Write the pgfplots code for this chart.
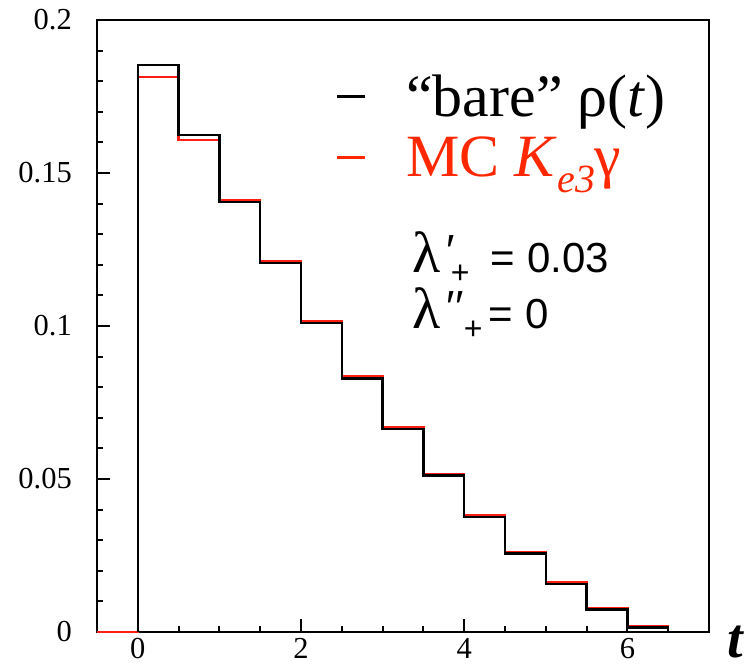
\documentclass[border=0pt]{standalone}
\usepackage{pgfplots}
\pgfplotsset{compat=1.18}
\usepackage{fontspec}
\setmainfont{Liberation Serif}
\newfontfamily\lsans{Liberation Sans}
\newfontfamily\lserif{Liberation Serif}
\definecolor{hred}{RGB}{255,30,20}
\definecolor{tred}{RGB}{255,40,0}
\begin{document}
\begin{tikzpicture}
\begin{axis}[
  scale only axis, width=612pt, height=612pt,
  xmin=-0.5, xmax=7, ymin=0, ymax=0.2,
  axis line style={line width=2.2pt},
  every tick/.style={black, line width=2pt},
  tick align=inside,
  xtick={0,2,4,6}, minor x tick num=3,
  ytick={0,0.05,0.1,0.15,0.2}, yticklabels={0,0.05,0.1,0.15,0.2}, minor y tick num=4,
  xtick pos=bottom, ytick pos=left,
  major tick length=13pt, minor tick length=6pt,
  /pgf/number format/assume math mode=true,
  tick label style={font=\fontsize{30.5}{32}\selectfont, inner sep=0pt},
  yticklabel style={xshift=-25pt},
  xticklabel style={yshift=-6pt},
  xlabel={\fontsize{56}{56}\selectfont\bfseries\itshape t},
  xlabel style={at={(axis description cs:1,0)}, anchor=base west, inner sep=0pt, xshift=18pt, yshift=-25pt},
  legend cell align=left,
  legend style={draw=none, fill=none, at={(axis description cs:0.389,0.910)}, anchor=north west,
    font=\fontsize{60}{62}\selectfont, inner sep=0pt, row sep=18pt, nodes={inner sep=0pt},
    /tikz/every odd column/.append style={column sep=40pt}},
  legend image code/.code={\draw[#1] (0pt,0pt) -- (28pt,0pt);},
]
\addplot[hred, line width=2.5pt, const plot, forget plot] coordinates {
 (-0.5,0) (0,0.1813) (0.5,0.1608) (1.0,0.1410) (1.5,0.1211) (2.0,0.1014) (2.5,0.0837)
 (3.0,0.0670) (3.5,0.0516) (4.0,0.0381) (4.5,0.0261) (5.0,0.0161) (5.5,0.0077)
 (6.0,0.0020) (6.5,0)};
\addplot[black, line width=2.4pt, const plot, forget plot] coordinates {
 (0,0) (0,0.1852) (0.5,0.1624) (1.0,0.1406) (1.5,0.1205) (2.0,0.1010) (2.5,0.0829)
 (3.0,0.0664) (3.5,0.0511) (4.0,0.0375) (4.5,0.0256) (5.0,0.0157) (5.5,0.0074)
 (6.0,0.0015) (6.5,0)};
\addlegendimage{black, line width=3pt}
\addlegendentry{“bare” ρ(\textit{t})}
\addlegendimage{tred, line width=3pt}
\addlegendentry{\textcolor{tred}{MC \textit{K}\raisebox{-16pt}{\fontsize{40}{40}\selectfont\itshape e3}γ}}
\node[anchor=base west, inner sep=0pt, font=\lsans\fontsize{45}{45}\selectfont] at (axis cs:3.37,0.1176)
 {\rlap{\lserif\fontsize{58}{58}\selectfont λ}\rlap{\hspace{34pt}\raisebox{6pt}{′}}\rlap{\hspace{38pt}\raisebox{-11pt}{\fontsize{32}{32}\selectfont +}}\hspace{78pt}\fontsize{42}{42}\selectfont = 0.03};
\node[anchor=base west, inner sep=0pt, font=\lsans\fontsize{45}{45}\selectfont] at (axis cs:3.37,0.0993)
 {\rlap{\lserif\fontsize{58}{58}\selectfont λ}\rlap{\hspace{34pt}\raisebox{6pt}{′′}}\rlap{\hspace{51pt}\raisebox{-11pt}{\fontsize{32}{32}\selectfont +}}\hspace{76pt}\fontsize{42}{42}\selectfont = 0};
\coordinate (sw) at (rel axis cs:0,0);
\coordinate (ne) at (rel axis cs:1,1);
\end{axis}
\pgfresetboundingbox
\path[use as bounding box] ([shift={(-97pt,-32pt)}]sw) rectangle ([shift={(47pt,20pt)}]ne);
\end{tikzpicture}
\end{document}
